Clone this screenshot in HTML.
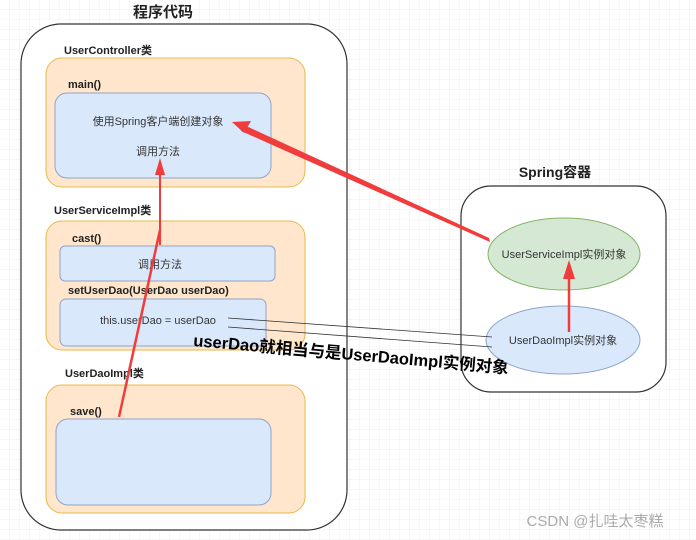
<!DOCTYPE html>
<html><head><meta charset="utf-8"><style>
html,body{margin:0;padding:0;background:#fff}
svg{display:block}
text{font-family:"Liberation Sans","Noto Sans CJK SC",sans-serif}
</style></head><body>
<svg width="696" height="540" xmlns="http://www.w3.org/2000/svg">
<defs>
<pattern id="g" width="10" height="10" patternUnits="userSpaceOnUse"><path d="M10 0V10H0" fill="none" stroke="#efefef" stroke-width="1"/></pattern>
</defs>
<rect width="696" height="540" fill="#fff"/>
<rect width="696" height="540" fill="url(#g)"/>
<text x="163" y="17" font-size="15" font-weight="bold" text-anchor="middle" fill="#222">程序代码</text>
<rect x="21" y="24" width="326" height="506" rx="40" fill="#fff" stroke="#333" stroke-width="1.2"/>

<text x="64" y="54" font-size="11" font-weight="bold" fill="#222">UserController类</text>
<rect x="46" y="58" width="259" height="129" rx="16" fill="#ffe6cc" stroke="#e8b84a"/>
<text x="68" y="88" font-size="11" font-weight="bold" fill="#222">main()</text>
<rect x="55" y="93" width="216" height="85" rx="12" fill="#dae8fc" stroke="#8ea4c8"/>
<text x="158" y="125" font-size="11" text-anchor="middle" fill="#333">使用Spring客户端创建对象</text>
<text x="158" y="155" font-size="11" text-anchor="middle" fill="#333">调用方法</text>

<text x="54" y="214" font-size="11" font-weight="bold" fill="#222">UserServiceImpl类</text>
<rect x="46" y="221" width="259" height="129" rx="16" fill="#ffe6cc" stroke="#e8b84a"/>
<text x="72" y="242" font-size="11" font-weight="bold" fill="#222">cast()</text>
<rect x="60" y="246" width="215" height="35" rx="5" fill="#dae8fc" stroke="#8ea4c8"/>
<text x="160" y="268" font-size="11" text-anchor="middle" fill="#333">调用方法</text>
<text x="68" y="294" font-size="11" font-weight="bold" fill="#222">setUserDao(UserDao userDao)</text>
<rect x="60" y="299" width="206" height="47" rx="6" fill="#dae8fc" stroke="#8ea4c8"/>
<text x="158" y="324" font-size="11" text-anchor="middle" fill="#333">this.userDao = userDao</text>

<text x="65" y="377" font-size="11" font-weight="bold" fill="#222">UserDaoImpl类</text>
<rect x="46" y="385" width="259" height="128" rx="16" fill="#ffe6cc" stroke="#e8b84a"/>
<text x="70" y="415" font-size="11" font-weight="bold" fill="#222">save()</text>
<rect x="56" y="419" width="215" height="86" rx="12" fill="#dae8fc" stroke="#8ea4c8"/>

<text x="555" y="177" font-size="14" font-weight="bold" text-anchor="middle" fill="#222">Spring容器</text>
<rect x="461" y="186" width="205" height="206" rx="30" fill="#fff" stroke="#333" stroke-width="1.2"/>
<ellipse cx="564" cy="254" rx="76" ry="36" fill="#d5e8d4" stroke="#82b366"/>
<text x="564" y="258" font-size="11" text-anchor="middle" fill="#333">UserServiceImpl实例对象</text>
<ellipse cx="563" cy="340" rx="77" ry="34" fill="#dae8fc" stroke="#8ea4c8"/>
<text x="563" y="344" font-size="11" text-anchor="middle" fill="#333">UserDaoImpl实例对象</text>

<line x1="228" y1="318" x2="492" y2="337" stroke="#333" stroke-width="0.8"/>
<line x1="228" y1="327" x2="492" y2="347" stroke="#333" stroke-width="0.8"/>

<g fill="#f03c3c" stroke="#f03c3c">
<line x1="119" y1="417" x2="160" y2="230" stroke-width="2.5"/>
<line x1="160" y1="245" x2="160" y2="172" stroke-width="2"/>
<polygon points="155,175 160,158 165,175" stroke="none"/>
<polygon points="490,242 489,238 244,125 241,131" stroke="none"/>
<polygon points="232,122 251,121 244,133" stroke="none"/>
<line x1="569" y1="332" x2="569" y2="276" stroke-width="2.5"/>
<polygon points="563,279 569,260 575,279" stroke="none"/>
</g>

<text x="193" y="346" font-size="16.5" font-weight="bold" fill="#000" transform="rotate(5 193 346)">userDao就相当与是UserDaoImpl实例对象</text>
<text x="595" y="526" font-size="15" text-anchor="middle" fill="#aaa">CSDN @扎哇太枣糕</text>
</svg>
</body></html>
